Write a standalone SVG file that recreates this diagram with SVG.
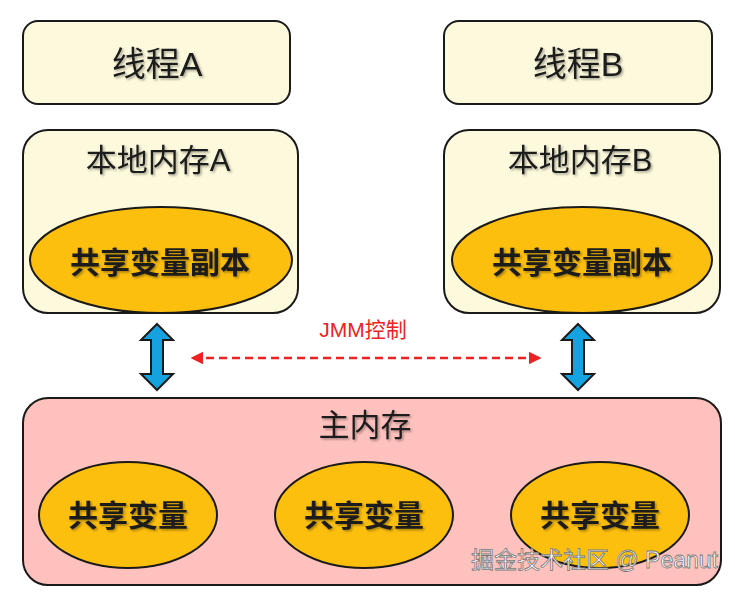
<svg xmlns="http://www.w3.org/2000/svg" width="735" height="600" viewBox="0 0 735 600">
<style>
.box{fill:#fdf9dc;stroke:#1a1a1a;stroke-width:2}
.main{fill:#ffc1bd;stroke:#1a1a1a;stroke-width:2}
.ell{fill:#fdbf0e;stroke:#1a1a1a;stroke-width:2}
.t{font-family:"Liberation Sans","Noto Sans CJK SC",sans-serif;fill:#1a1a1a;text-anchor:middle;dominant-baseline:central}
.big{font-size:30px}
.th{font-size:34px}
.mid{font-size:31px}
.bold{font-weight:bold}
.blue{fill:#14a3e0;stroke:#1a1a1a;stroke-width:2;stroke-linejoin:miter}
.red{stroke:#ee2222;stroke-width:2.5;stroke-dasharray:8 5;fill:none}
.wm{font-family:"Liberation Sans","Noto Sans CJK SC",sans-serif;font-size:23px;fill:#ffffff;stroke:#777;stroke-width:0.8}
</style>
<defs>
<filter id="sh" x="-10%" y="-10%" width="130%" height="140%">
<feDropShadow dx="1.5" dy="1.5" stdDeviation="0.8" flood-color="#000" flood-opacity="0.35"/>
</filter>
<marker id="rh" viewBox="0 0 10 10" refX="8" refY="5" markerWidth="5" markerHeight="5" orient="auto-start-reverse">
<path d="M0,0 L10,5 L0,10 z" fill="#ee2222"/>
</marker>
</defs>
<rect width="735" height="600" fill="#ffffff"/>

<g id="threadA">
<rect class="box" x="23" y="21" width="267" height="83" rx="15"/>
<text class="t th" x="157" y="64" filter="url(#sh)">线程A</text>
</g>
<g id="threadB">
<rect class="box" x="444" y="21" width="268" height="83" rx="15"/>
<text class="t th" x="578" y="64" filter="url(#sh)">线程B</text>
</g>

<g id="localA">
<rect class="box" x="23" y="130" width="275" height="183" rx="25"/>
<text class="t mid" x="158" y="160" filter="url(#sh)">本地内存A</text>
<ellipse class="ell" cx="161" cy="260" rx="131" ry="53"/>
<text class="t big bold" x="160" y="262" filter="url(#sh)">共享变量副本</text>
</g>
<g id="localB">
<rect class="box" x="444" y="130" width="276" height="183" rx="25"/>
<text class="t mid" x="580" y="160" filter="url(#sh)">本地内存B</text>
<ellipse class="ell" cx="582" cy="260" rx="130" ry="53"/>
<text class="t big bold" x="582" y="262" filter="url(#sh)">共享变量副本</text>
</g>

<g id="mainMemory">
<rect class="main" x="23" y="398" width="698" height="187" rx="25"/>
<text class="t mid" x="365" y="425" filter="url(#sh)">主内存</text>
</g>
<g id="var1">
<ellipse class="ell" cx="128" cy="515" rx="89" ry="53"/>
<text class="t big bold" x="128" y="515" filter="url(#sh)">共享变量</text>
</g>
<g id="var2">
<ellipse class="ell" cx="364" cy="515" rx="89" ry="53"/>
<text class="t big bold" x="364" y="515" filter="url(#sh)">共享变量</text>
</g>
<g id="var3">
<ellipse class="ell" cx="600" cy="515" rx="89" ry="53"/>
<text class="t big bold" x="600" y="515" filter="url(#sh)">共享变量</text>
</g>

<g id="connectors">
<path class="blue" d="M157,324 L173,340 L163,340 L163,374 L173,374 L157,390 L141,374 L151,374 L151,340 L141,340 Z"/>
<path class="blue" d="M578,324 L594,340 L584,340 L584,374 L594,374 L578,390 L562,374 L572,374 L572,340 L562,340 Z"/>
<line class="red" x1="193" y1="358" x2="539" y2="358" marker-start="url(#rh)" marker-end="url(#rh)"/>
<text x="363" y="329" font-family="Liberation Sans,Noto Sans CJK SC,sans-serif" font-size="21" fill="#ee2222" text-anchor="middle" dominant-baseline="central">JMM控制</text>
</g>

<text class="wm" x="718" y="568" text-anchor="end">掘金技术社区 @ Peanut</text>
</svg>
